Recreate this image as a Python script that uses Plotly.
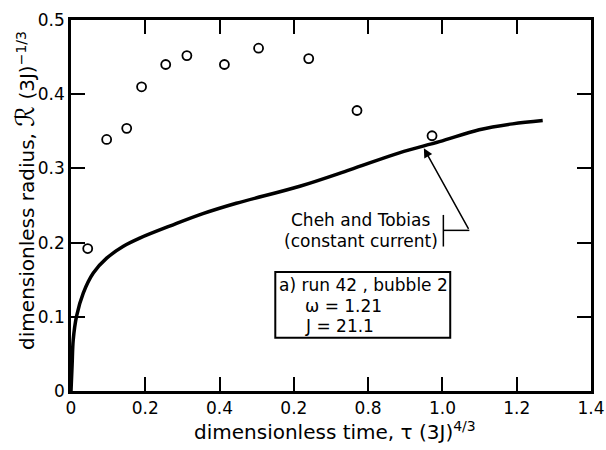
import plotly.graph_objects as go

# Measured bubble radius (open circles)
meas_tau = [0.045, 0.096, 0.150, 0.190, 0.255, 0.312, 0.413, 0.505, 0.640, 0.770, 0.972]
meas_R = [0.192, 0.339, 0.354, 0.410, 0.440, 0.452, 0.440, 0.462, 0.448, 0.378, 0.344]

# Cheh and Tobias (constant current) curve
theory_tau = [0, 0.003, 0.006, 0.015, 0.033, 0.06, 0.096, 0.141, 0.185, 0.275, 0.355,
              0.445, 0.616, 0.75, 0.884, 0.992, 1.099, 1.189, 1.27]
theory_R = [0, 0.035, 0.069, 0.101, 0.132, 0.159, 0.179, 0.195, 0.206, 0.224, 0.239,
            0.253, 0.276, 0.298, 0.321, 0.336, 0.352, 0.360, 0.3645]

x_tickvals = [0, 0.2, 0.4, 0.6, 0.8, 1.0, 1.2, 1.4]
x_ticktext = ["0", "0.2", "0.4", "0.2", "0.8", "1.0", "1.2", "1.4"]
y_tickvals = [0, 0.1, 0.2, 0.3, 0.4, 0.5]
y_ticktext = ["0", "0.1", "0.2", "0.3", "0.4", "0.5"]

FONT = "DejaVu Sans"

fig = go.Figure()
fig.add_trace(go.Scatter(x=theory_tau, y=theory_R, mode="lines",
                         line=dict(color="black", width=3.5, shape="spline"),
                         showlegend=False, hoverinfo="skip"))
fig.add_trace(go.Scatter(x=meas_tau, y=meas_R, mode="markers",
                         marker=dict(symbol="circle-open", size=9, color="black",
                                     line=dict(width=1.8, color="black")),
                         showlegend=False))

axis_common = dict(showline=True, linecolor="black", linewidth=2.5, mirror="allticks",
                   ticks="inside", ticklen=14, tickwidth=2, tickcolor="black",
                   showgrid=False, zeroline=False, automargin=False,
                   tickfont=dict(family=FONT, size=17, color="black"))

fig.update_xaxes(range=[0, 1.4], tickvals=x_tickvals, ticktext=x_ticktext, **axis_common)
fig.update_yaxes(range=[0, 0.5], tickvals=y_tickvals, ticktext=y_ticktext, **axis_common)

annotations = [
    dict(text="dimensionless time, τ (3J)<sup>4/3</sup>", xref="paper", yref="paper",
         x=0.508, y=-0.109, xanchor="center", yanchor="middle", showarrow=False,
         font=dict(family=FONT, size=20, color="black")),
    dict(text="dimensionless radius, <span style='font-size:26px'>ℛ</span> (3J)<sup>−1/3</sup>",
         xref="paper", yref="paper", x=-0.0885, y=0.542, xanchor="center", yanchor="middle",
         textangle=-90, showarrow=False, font=dict(family=FONT, size=20, color="black")),
    dict(text="Cheh and Tobias", x=0.78, y=0.23, xref="x", yref="y", showarrow=False,
         font=dict(family=FONT, size=17, color="black")),
    dict(text="(constant current)", x=0.782, y=0.2016, xref="x", yref="y", showarrow=False,
         font=dict(family=FONT, size=17, color="black")),
    dict(text="a) run 42 , bubble 2", x=0.554, y=0.1434, xref="x", yref="y", xanchor="left",
         showarrow=False, font=dict(family=FONT, size=17, color="black")),
    dict(text="ω = 1.21", x=0.624, y=0.115, xref="x", yref="y", xanchor="left",
         showarrow=False, font=dict(family=FONT, size=17, color="black")),
    dict(text="J = 21.1", x=0.624, y=0.0872, xref="x", yref="y", xanchor="left",
         showarrow=False, font=dict(family=FONT, size=17, color="black")),
    dict(text="", x=0.95, y=0.327, ax=1.0725, ay=0.2165, xref="x", yref="y",
         axref="x", ayref="y", showarrow=True, arrowhead=2, arrowsize=1.2,
         arrowwidth=1.5, arrowcolor="black", standoff=0),
]

shapes = [
    dict(type="rect", xref="x", yref="y", x0=0.55, x1=1.021, y0=0.0716, y1=0.1605,
         line=dict(color="black", width=2)),
    dict(type="line", xref="x", yref="y", x0=1.0025, x1=1.0725, y0=0.2165, y1=0.2165,
         line=dict(color="black", width=1.5)),
    dict(type="line", xref="x", yref="y", x0=1.0025, x1=1.0025, y0=0.1947, y1=0.2373,
         line=dict(color="black", width=1.5)),
]

fig.update_layout(width=606, height=450, margin=dict(l=71, r=15, t=20, b=58.5),
                  paper_bgcolor="white", plot_bgcolor="white",
                  annotations=annotations, shapes=shapes,
                  font=dict(family=FONT, color="black"))

fig.write_html("out.html", config={"displayModeBar": False},
               post_script="document.body.style.margin='0px';document.body.style.overflow='hidden';")
